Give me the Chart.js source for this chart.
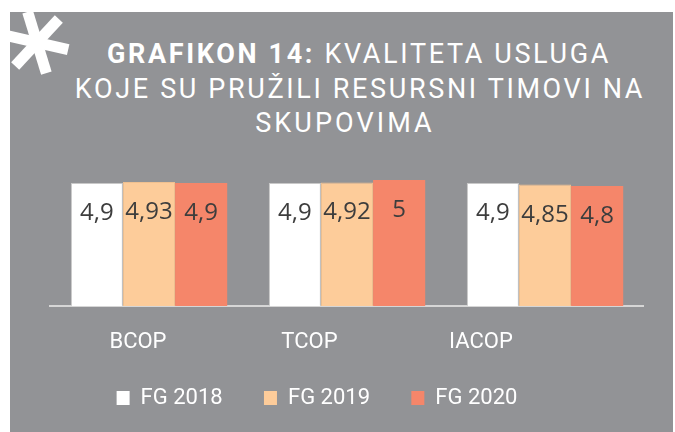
<!DOCTYPE html>
<html>
<head>
<meta charset="utf-8">
<script src="https://cdn.jsdelivr.net/npm/chart.js@4/dist/chart.umd.min.js"></script>
<style>
  html, body { margin:0; padding:0; width:675px; height:432px; overflow:hidden; background:#ffffff; }
  #panel { position:absolute; left:10px; top:12px; width:663px; height:420px; background:#929396; }
  .arm { position:absolute; left:5px; top:36.5px; width:64px; height:11px; background:#ffffff; }
  .tl { position:absolute; white-space:nowrap; color:#ffffff; font-family:Roboto, "Open Sans", sans-serif;
        font-size:27px; line-height:35px; transform:translateX(-50%); letter-spacing:2.65px; }
  .tl b { font-weight:700; }
  #wrap { position:absolute; left:-10px; top:0; width:654px; height:419px; }
</style>
</head>
<body>
<div id="panel"></div>
<div class="arm" style="transform:rotate(13deg)"></div>
<div class="arm" style="transform:rotate(73deg)"></div>
<div class="arm" style="transform:rotate(133deg)"></div>
<div class="tl" style="left:359px; top:36.5px"><b>GRAFIKON 14:</b> KVALITETA USLUGA</div>
<div class="tl" style="left:360px; top:71.5px">KOJE SU PRUŽILI RESURSNI TIMOVI NA</div>
<div class="tl" style="left:345px; top:106.2px; letter-spacing:3.1px">SKUPOVIMA</div>
<div id="wrap"><canvas id="c"></canvas></div>
<script>
const categories = ['BCOP', 'TCOP', 'IACOP'];
const seriesNames = ['FG 2018', 'FG 2019', 'FG 2020'];
const fg2018 = [4.9, 4.9, 4.9];
const fg2019 = [4.93, 4.92, 4.85];
const fg2020 = [4.9, 5, 4.8];
const seriesColors = ['#ffffff', '#fdcc9a', '#f5866a'];
const seriesBorders = ['#c8c8c8', '#f0c08f', '#f5866a'];

const labelFamily = 'Roboto, "Open Sans", sans-serif';

const fmt = v => String(v).replace('.', ',');

const valueLabels = {
  id: 'valueLabels',
  afterDatasetsDraw(chart) {
    const ctx = chart.ctx;
    ctx.save();
    ctx.font = '24px "Open Sans"';
    ctx.fillStyle = '#3d3d3d';
    ctx.textAlign = 'center';
    ctx.textBaseline = 'alphabetic';
    chart.data.datasets.forEach((ds, di) => {
      chart.getDatasetMeta(di).data.forEach((bar, i) => {
        ctx.fillText(fmt(ds.data[i]), bar.x, bar.y + 37);
      });
    });
    ctx.restore();
  }
};

const values = [fg2018, fg2019, fg2020];

new Chart(document.getElementById('c'), {
  type: 'bar',
  data: {
    labels: categories,
    datasets: values.map((d, i) => ({
      label: seriesNames[i],
      data: d,
      backgroundColor: seriesColors[i],
      borderColor: seriesBorders[i],
      borderWidth: i === 2 ? 0 : 1,
      barPercentage: 1,
      categoryPercentage: 0.79
    }))
  },
  options: {
    responsive: true,
    maintainAspectRatio: false,
    animation: false,
    layout: { padding: { top: 150, left: 0, right: 0, bottom: 0 } },
    scales: {
      x: {
        type: 'category',
        position: 'bottom',
        weight: 0,
        offset: true,
        grid: { display: false, drawTicks: false },
        ticks: { display: false },
        border: { display: true, color: '#d6d6d6', width: 2 }
      },
      xl: {
        type: 'linear',
        position: 'bottom',
        weight: 1,
        offset: false,
        min: -0.513,
        max: 2.951,
        grid: { display: false, drawTicks: false, offset: false },
        border: { display: false },
        afterBuildTicks: s => { s.ticks = categories.map((_, i) => ({ value: i })); },
        afterFit: s => { s.height = 39.7; s._computeLabelArea = () => undefined; },
        ticks: {
          autoSkip: false,
          maxRotation: 0,
          padding: 23.5,
          color: '#ffffff',
          font: { family: labelFamily, size: 22 },
          callback: v => categories[v]
        }
      },
      y: {
        min: 0.8,
        max: 6.0,
        grid: { display: false, drawTicks: false },
        border: { display: false },
        ticks: { display: false },
        afterFit: s => { s.width = 60; }
      }
    },
    plugins: {
      tooltip: { enabled: false },
      legend: {
        position: 'bottom',
        labels: {
          color: '#ffffff',
          boxWidth: 13,
          boxHeight: 14,
          padding: 41.3,
          font: { family: labelFamily, size: 22 },
          generateLabels: chart => Chart.defaults.plugins.legend.labels.generateLabels(chart).map(l => Object.assign(l, { lineWidth: 0 }))
        }
      }
    }
  },
  plugins: [valueLabels]
});
</script>
</body>
</html>
